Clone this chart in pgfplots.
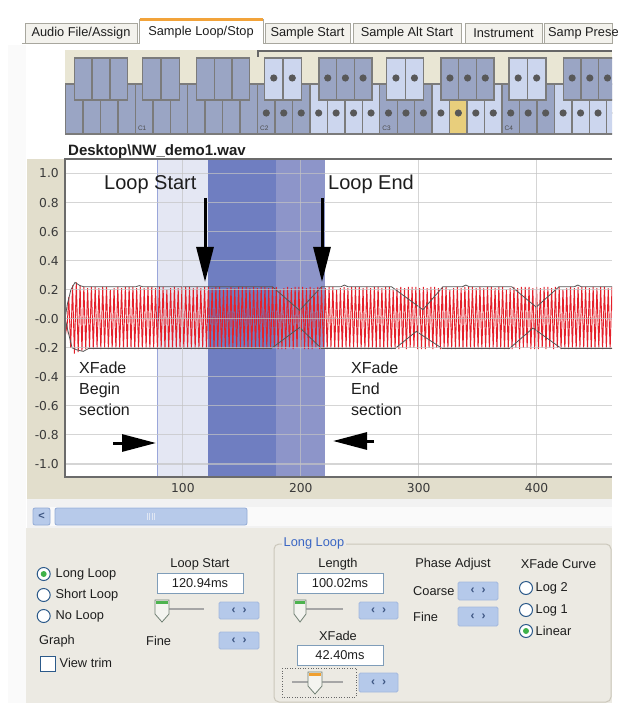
\documentclass[border=0pt]{standalone}
\usepackage{fontspec}
\setmainfont{Liberation Sans}
\newfontfamily\dejavu{DejaVu Sans}
\usepackage{pgfplots}
\pgfplotsset{compat=1.18}
\usetikzlibrary{arrows.meta}
\definecolor{chartbeige}{HTML}{E2DECC}
\definecolor{kbeige}{HTML}{E9E6D4}
\definecolor{kd}{HTML}{9AA5C4}
\definecolor{kl}{HTML}{CCD6EE}
\definecolor{ky}{HTML}{E8CE7C}
\definecolor{kborder}{HTML}{7B7B7B}
\definecolor{kdot}{HTML}{585858}
\definecolor{bandlight}{HTML}{E4E7F3}
\definecolor{banddark}{HTML}{6F7EC1}
\definecolor{bandmid}{HTML}{8D95C9}
\definecolor{bandline}{HTML}{9AA6DA}
\definecolor{wavered}{HTML}{E4202A}
\definecolor{envgray}{HTML}{555555}
\definecolor{gridc}{HTML}{C4C4C4}
\definecolor{tickc}{HTML}{3A3A3A}
\definecolor{panel}{HTML}{ECEAE3}
\definecolor{groupb}{HTML}{CBC7BB}
\definecolor{groupt}{HTML}{3A66C4}
\definecolor{spinf}{HTML}{B5C9EA}
\definecolor{spinb}{HTML}{A3B8DE}
\definecolor{spint}{HTML}{3E5682}
\definecolor{tbb}{HTML}{7F9DB9}
\definecolor{thumbf}{HTML}{F4F4F0}
\definecolor{thumbb}{HTML}{6F7F72}
\definecolor{thumbg}{HTML}{4DB34F}
\definecolor{thumbo}{HTML}{F0A030}
\definecolor{radb}{HTML}{2C5A8A}
\definecolor{radg}{HTML}{3FB24A}
\definecolor{tabf}{HTML}{F3F2ED}
\definecolor{tabb}{HTML}{A8A79E}
\definecolor{taborange}{HTML}{F2A33A}
\definecolor{scrollf}{HTML}{B7CAEA}
\definecolor{scrollb}{HTML}{93ABD6}
\definecolor{frame}{HTML}{6B6B6B}
\definecolor{txt}{HTML}{1E1E1E}
\newcommand\ui{\fontsize{12.8}{15}\selectfont}
\newcommand\annotA{\fontsize{20}{24}\selectfont}
\newcommand\annotB{\fontsize{16}{19}\selectfont}
\newcommand\tickf{\dejavu\fontsize{12.3}{14}\selectfont}
\newcommand\spin[4]{\filldraw[fill=spinf, draw=spinb, line width=0.8pt, rounded corners=1.5pt] (#1,#2) rectangle (#3,#4);
  \node[font=\fontsize{12}{13}\selectfont\bfseries, text=spint] at ({(#1+#3)/2},{(#2+#4)/2}) {‹\hspace{7pt}›};}
\newcommand\tbox[5]{\filldraw[fill=white, draw=tbb, line width=1pt] (#1,#2) rectangle (#3,#4);
  \node[font=\ui, text=txt] at ({(#1+#3)/2},{(#2+#4)/2}) {#5};}
\newcommand\thumb[4]{\filldraw[fill=thumbf, draw=thumbb, line width=0.8pt] (#1,#3) -- (#2,#3) -- (#2,#3+14) -- ({(#1+#2)/2},#3+22) -- (#1,#3+14) -- cycle;
  \fill[#4] (#1+1,#3+0.6) rectangle (#2-1,#3+3.6);}
\newcommand\radio[3]{\filldraw[fill=white, draw=radb, line width=1pt] (#1,#2) circle[radius=6.5pt];
  \ifnum#3=1 \fill[radg] (#1,#2) circle[radius=3pt];\fi}
\begin{document}
\begin{tikzpicture}
\useasboundingbox (0,0) rectangle (619pt,-708pt);
\fill[white] (0,0) rectangle (619pt,-708pt);
\begin{scope}[x=1pt,y=-1pt]
% left strip
\fill[black!2] (8,45) rectangle (26,703);
% tabs
\filldraw[fill=tabf, draw=tabb, line width=0.8pt] (25,23) rectangle (137,43);
\node[font=\ui, text=txt] at (81,33) {Audio File/Assign};
\filldraw[fill=tabf, draw=tabb, line width=0.8pt] (265,23) rectangle (350,43);
\node[font=\ui, text=txt] at (307.5,33) {Sample Start};
\filldraw[fill=tabf, draw=tabb, line width=0.8pt] (353,23) rectangle (461,43);
\node[font=\ui, text=txt] at (407,33) {Sample Alt Start};
\filldraw[fill=tabf, draw=tabb, line width=0.8pt] (465,23) rectangle (542,43);
\node[font=\ui, text=txt] at (503.5,33) {Instrument};
\filldraw[fill=tabf, draw=tabb, line width=0.8pt] (544,23) -- (612,23) -- (612,43) -- (544,43) -- cycle;
\node[font=\ui, text=txt, anchor=west, inner sep=0pt] at (548,33) {Samp Prese};
\draw[tabb, line width=0.8pt] (22,43) -- (139,43) (263,43) -- (612,43);
\filldraw[fill=white, draw=tabb, line width=0.8pt] (139,44) -- (139,19) -- (263,19) -- (263,44);
\fill[taborange] (139.5,18.5) rectangle (262.5,21.5);
\node[font=\ui, text=txt] at (201,32) {Sample Loop/Stop};
% keyboard
\begin{scope}
\clip (60,45) rectangle (612,140);
\fill[kbeige] (65,50) rectangle (612,85);
\foreach \k/\c in {0/kd,1/kd,2/kd,3/kd,4/kd,5/kd,6/kd,7/kd,8/kd,9/kd,10/kd,11/kd,12/kd,13/kd,14/kl,15/kl,16/kl,17/kl,18/kd,19/kd,20/kd,21/kl,22/ky,23/kl,24/kl,25/kd,26/kd,27/kd,28/kl,29/kl,30/kl,31/kl}{
  \pgfmathsetmacro\xa{65.5+\k*17.46}
  \filldraw[fill=\c, draw=kborder, line width=1.4pt] (\xa,84) rectangle ++(17.46,50);
  \ifnum\k>10 \fill[kdot] (\xa+8.73,113) circle[radius=3.6pt];\fi
}
\foreach \xs/\n/\c/\d in {74.5/3/kd/0, 142.3/2/kd/0, 196.7/3/kd/0, 264.5/2/kl/1, 318.9/3/kd/1, 386.7/2/kl/1, 441.1/3/kd/1, 508.9/2/kl/1, 563.3/3/kd/1}{
  \ifnum\n=3 \def\w{17.67}\else\def\w{18.5}\fi
  \foreach \j in {1,...,\n}{
    \pgfmathsetmacro\xx{\xs+(\j-1)*\w}
    \filldraw[fill=\c, draw=kborder, line width=1.4pt] (\xx,58) rectangle ++(\w,42);
    \ifnum\d=1 \fill[kdot] (\xx+\w/2,78) circle[radius=3.6pt];\fi
  }
}
\foreach \xc/\t in {135.3/C1, 257.5/C2, 379.7/C3, 501.9/C4}{
  \node[font=\fontsize{6.5}{7}\selectfont, text=black!70, anchor=base west, inner sep=0pt] at (\xc+2.5,131) {\t};
}
\end{scope}
\draw[black!60, line width=1.8pt] (258,57) -- (258,51) -- (612,51);
% file label
\node[font=\fontsize{15}{17}\selectfont\bfseries, text=txt, anchor=base west, inner sep=0pt] at (68,156) {Desktop\textbackslash NW\_demo1.wav};
% chart bands
\fill[chartbeige] (27,159) rectangle (612,499);
% scroll area
\fill[black!5] (27,499) rectangle (612,528);
\fill[white!98!black] (50,507) rectangle (612,526);
\filldraw[fill=scrollf, draw=scrollb, line width=0.8pt, rounded corners=2pt] (33,508) rectangle (50,525);
\node[font=\fontsize{11}{12}\selectfont\bfseries, text=spint] at (41.5,516.5) {<};
\filldraw[fill=scrollf, draw=scrollb, line width=0.8pt, rounded corners=2pt] (55,508) rectangle (247,525);
\foreach \gx in {147,149.5,152,154.5} \draw[white!70!scrollb, line width=0.6pt] (\gx,513) -- (\gx,520);
% panel
\fill[panel] (26,528) rectangle (612,703);
\radio{43.7}{574}{1}
\radio{43.7}{595}{0}
\radio{43.7}{616}{0}
\node[font=\ui, text=txt, anchor=west, inner sep=0pt] at (55.5,574) {Long Loop};
\node[font=\ui, text=txt, anchor=west, inner sep=0pt] at (55.5,595) {Short Loop};
\node[font=\ui, text=txt, anchor=west, inner sep=0pt] at (55.5,616) {No Loop};
\node[font=\ui, text=txt, anchor=west, inner sep=0pt] at (39,641) {Graph};
\filldraw[fill=white, draw=radb, line width=1pt] (40,656) rectangle (55,671);
\node[font=\ui, text=txt, anchor=west, inner sep=0pt] at (59.5,663) {View trim};
\node[font=\ui, text=txt] at (200,564) {Loop Start};
\tbox{157}{573}{243}{593}{120.94ms}
\draw[black!35, line width=1.6pt] (160,609) -- (204,609);
\thumb{155}{169}{600}{thumbg}
\spin{219}{602}{259}{619}
\node[font=\ui, text=txt, anchor=west, inner sep=0pt] at (146,641) {Fine};
\spin{219}{632}{259}{649}
% group box
\draw[groupb, line width=1pt, rounded corners=5pt] (274,544) rectangle (611,702);
\node[font=\ui, text=groupt, fill=panel, anchor=west, inner sep=1.5pt] at (282,543) {Long Loop};
\node[font=\ui, text=txt] at (338,564) {Length};
\tbox{297}{573}{383}{593}{100.02ms}
\draw[black!35, line width=1.6pt] (300,609) -- (343,609);
\thumb{294}{306}{600}{thumbg}
\spin{359}{602}{398}{619}
\node[font=\ui, text=txt] at (338,636) {XFade};
\tbox{297}{645}{383}{665}{42.40ms}
\draw[black!60, line width=0.6pt, dotted] (282,668) rectangle (356,697);
\draw[black!35, line width=1.6pt] (292,682) -- (343,682);
\thumb{308}{322}{672}{thumbo}
\spin{359}{673}{398}{692}
\node[font=\ui, text=txt] at (453,564) {Phase Adjust};
\node[font=\ui, text=txt, anchor=west, inner sep=0pt] at (413,591) {Coarse};
\spin{458}{582}{498}{600}
\node[font=\ui, text=txt, anchor=west, inner sep=0pt] at (413,617) {Fine};
\spin{458}{607}{498}{626}
\node[font=\ui, text=txt] at (558.5,564) {XFade Curve};
\radio{526}{588}{0}
\radio{526}{610}{0}
\radio{526}{631}{1}
\node[font=\ui, text=txt, anchor=west, inner sep=0pt] at (535.5,588) {Log 2};
\node[font=\ui, text=txt, anchor=west, inner sep=0pt] at (535.5,610) {Log 1};
\node[font=\ui, text=txt, anchor=west, inner sep=0pt] at (535.5,631) {Linear};
\end{scope}

\begin{axis}[
  at={(65pt,-477pt)}, anchor=south west,
  scale only axis, width=547pt, height=318pt,
  xmin=0, xmax=464, ymin=-1.09, ymax=1.10,
  xtick={100,200,300,400}, xticklabels={100,200,300,400},
  ytick={-1,-0.8,-0.6,-0.4,-0.2,0,0.2,0.4,0.6,0.8,1},
  yticklabels={-1.0,-0.8,-0.6,-0.4,-0.2,-0.0,0.2,0.4,0.6,0.8,1.0},
  grid=major, major grid style={draw=gridc, line width=1.2pt, opacity=0.7},
  major tick length=0pt,
  axis line style={draw=none},
  axis on top,
  axis background/.style={fill=white},
  yticklabel style={font=\tickf, text=tickc, anchor=east, inner sep=0pt, xshift=-6pt},
  xticklabel style={font=\tickf, text=tickc, anchor=north, inner sep=0pt, yshift=-6pt},
]
% loop regions
\addplot[fill=bandlight, draw=none] coordinates {(78.54,-1.2) (78.54,1.2) (120.94,1.2) (120.94,-1.2)};
\addplot[fill=banddark, draw=none] coordinates {(120.94,-1.2) (120.94,1.2) (178.56,1.2) (178.56,-1.2)};
\addplot[fill=bandmid, draw=none] coordinates {(178.56,-1.2) (178.56,1.2) (220.96,1.2) (220.96,-1.2)};
\addplot[bandline, line width=1.2pt] coordinates {(78.54,-1.2) (78.54,1.2)};
% waveform
\addplot[wavered, line width=0.95pt] coordinates {
(0,0) (1.6,-0.08) (3.2,0.15) (4.8,-0.2) (6.4,0.23)
(8,-0.24) (9.6,0.25) (11.2,-0.23) (12.8,0.23) (14.4,-0.22)
(16,0.22) (17.6,-0.21) (19.2,0.21) (20.8,-0.2) (22.4,0.22)
(24,-0.21) (25.6,0.22) (27.2,-0.2) (28.8,0.21) (30.4,-0.21)
(32,0.22) (33.6,-0.2) (35.2,0.22) (36.8,-0.21) (38.4,0.2)
(40,-0.21) (41.6,0.21) (43.2,-0.21) (44.8,0.22) (46.4,-0.2)
(48,0.21) (49.6,-0.21) (51.2,0.22) (52.8,-0.2) (54.4,0.22)
(56,-0.2) (57.6,0.22) (59.2,-0.21) (60.8,0.21) (62.4,-0.21)
(64,0.22) (65.6,-0.21) (67.2,0.21) (68.8,-0.2) (70.4,0.22)
(72,-0.21) (73.6,0.22) (75.2,-0.2) (76.8,0.21) (78.4,-0.21)
(80,0.22) (81.6,-0.2) (83.2,0.22) (84.8,-0.21) (86.4,0.2)
(88,-0.21) (89.6,0.21) (91.2,-0.21) (92.8,0.22) (94.4,-0.2)
(96,0.21) (97.6,-0.21) (99.2,0.22) (100.8,-0.2) (102.4,0.22)
(104,-0.2) (105.6,0.22) (107.2,-0.21) (108.8,0.21) (110.4,-0.21)
(112,0.22) (113.6,-0.21) (115.2,0.21) (116.8,-0.2) (118.4,0.22)
(120,-0.21) (121.6,0.22) (123.2,-0.2) (124.8,0.21) (126.4,-0.21)
(128,0.22) (129.6,-0.2) (131.2,0.22) (132.8,-0.21) (134.4,0.2)
(136,-0.21) (137.6,0.21) (139.2,-0.21) (140.8,0.22) (142.4,-0.2)
(144,0.21) (145.6,-0.21) (147.2,0.22) (148.8,-0.2) (150.4,0.22)
(152,-0.2) (153.6,0.22) (155.2,-0.21) (156.8,0.21) (158.4,-0.21)
(160,0.22) (161.6,-0.21) (163.2,0.21) (164.8,-0.2) (166.4,0.22)
(168,-0.21) (169.6,0.22) (171.2,-0.2) (172.8,0.21) (174.4,-0.21)
(176,0.22) (177.6,-0.2) (179.2,0.22) (180.8,-0.21) (182.4,0.2)
(184,-0.21) (185.6,0.21) (187.2,-0.21) (188.8,0.22) (190.4,-0.2)
(192,0.21) (193.6,-0.21) (195.2,0.22) (196.8,-0.2) (198.4,0.22)
(200,-0.2) (201.6,0.22) (203.2,-0.21) (204.8,0.21) (206.4,-0.21)
(208,0.22) (209.6,-0.21) (211.2,0.21) (212.8,-0.2) (214.4,0.22)
(216,-0.21) (217.6,0.22) (219.2,-0.2) (220.8,0.21) (222.4,-0.21)
(224,0.22) (225.6,-0.2) (227.2,0.22) (228.8,-0.21) (230.4,0.2)
(232,-0.21) (233.6,0.21) (235.2,-0.21) (236.8,0.22) (238.4,-0.2)
(240,0.21) (241.6,-0.21) (243.2,0.22) (244.8,-0.2) (246.4,0.22)
(248,-0.2) (249.6,0.22) (251.2,-0.21) (252.8,0.21) (254.4,-0.21)
(256,0.22) (257.6,-0.21) (259.2,0.21) (260.8,-0.2) (262.4,0.22)
(264,-0.21) (265.6,0.22) (267.2,-0.2) (268.8,0.21) (270.4,-0.21)
(272,0.22) (273.6,-0.2) (275.2,0.22) (276.8,-0.21) (278.4,0.2)
(280,-0.21) (281.6,0.21) (283.2,-0.21) (284.8,0.22) (286.4,-0.2)
(288,0.21) (289.6,-0.21) (291.2,0.22) (292.8,-0.2) (294.4,0.22)
(296,-0.2) (297.6,0.22) (299.2,-0.21) (300.8,0.21) (302.4,-0.21)
(304,0.22) (305.6,-0.21) (307.2,0.21) (308.8,-0.2) (310.4,0.22)
(312,-0.21) (313.6,0.22) (315.2,-0.2) (316.8,0.21) (318.4,-0.21)
(320,0.22) (321.6,-0.2) (323.2,0.22) (324.8,-0.21) (326.4,0.2)
(328,-0.21) (329.6,0.21) (331.2,-0.21) (332.8,0.22) (334.4,-0.2)
(336,0.21) (337.6,-0.21) (339.2,0.22) (340.8,-0.2) (342.4,0.22)
(344,-0.2) (345.6,0.22) (347.2,-0.21) (348.8,0.21) (350.4,-0.21)
(352,0.22) (353.6,-0.21) (355.2,0.21) (356.8,-0.2) (358.4,0.22)
(360,-0.21) (361.6,0.22) (363.2,-0.2) (364.8,0.21) (366.4,-0.21)
(368,0.22) (369.6,-0.2) (371.2,0.22) (372.8,-0.21) (374.4,0.2)
(376,-0.21) (377.6,0.21) (379.2,-0.21) (380.8,0.22) (382.4,-0.2)
(384,0.21) (385.6,-0.21) (387.2,0.22) (388.8,-0.2) (390.4,0.22)
(392,-0.2) (393.6,0.22) (395.2,-0.21) (396.8,0.21) (398.4,-0.21)
(400,0.22) (401.6,-0.21) (403.2,0.21) (404.8,-0.2) (406.4,0.22)
(408,-0.21) (409.6,0.22) (411.2,-0.2) (412.8,0.21) (414.4,-0.21)
(416,0.22) (417.6,-0.2) (419.2,0.22) (420.8,-0.21) (422.4,0.2)
(424,-0.21) (425.6,0.21) (427.2,-0.21) (428.8,0.22) (430.4,-0.2)
(432,0.21) (433.6,-0.21) (435.2,0.22) (436.8,-0.2) (438.4,0.22)
(440,-0.2) (441.6,0.22) (443.2,-0.21) (444.8,0.21) (446.4,-0.21)
(448,0.22) (449.6,-0.21) (451.2,0.21) (452.8,-0.2) (454.4,0.22)
(456,-0.21) (457.6,0.22) (459.2,-0.2) (460.8,0.21) (462.4,-0.21)
(464,0.22) (465.6,-0.2)
};
% envelopes
\addplot[envgray, line width=0.8pt] coordinates {
(0,0) (2,0.1) (5,0.2) (8.5,0.25) (12.7,0.228) (16,0.22) (60,0.22) (63,0.228) (66,0.22) (176,0.22) (199,0.057) (217.5,0.22)
(234,0.22) (237,0.232) (240,0.22) (277,0.22) (303.6,0.062) (320.6,0.22) (337,0.22) (340,0.232) (343,0.22)
(379,0.22) (399.7,0.08) (419,0.22) (432,0.22) (435,0.232) (438,0.22) (464,0.22)};
\addplot[envgray, line width=0.8pt] coordinates {
(0,0) (3,-0.1) (6,-0.2) (9.9,-0.214) (15.5,-0.225) (20,-0.205) (175,-0.205) (199,-0.06) (217.5,-0.205)
(280,-0.205) (298,-0.087) (320,-0.205) (377,-0.205) (397,-0.064) (421,-0.205) (464,-0.205)};
\end{axis}

\begin{scope}[x=1pt,y=-1pt]
\draw[frame, line width=1.5pt] (612,159) -- (65,159) -- (65,477) -- (612,477);
% annotations
\node[font=\annotA, text=txt, anchor=base west, inner sep=0pt] at (104,189.3) {Loop Start};
\node[font=\annotA, text=txt, anchor=base west, inner sep=0pt] at (328,189.3) {Loop End};
\draw[black, line width=3pt, -{Triangle[length=35pt,width=17pt]}] (205,198) -- (205,282);
\draw[black, line width=3pt, -{Triangle[length=35pt,width=17pt]}] (322,198) -- (322,282);
\draw[black, line width=3pt, -{Triangle[length=34pt,width=17pt]}] (113,443) -- (156,443);
\draw[black, line width=3pt, -{Triangle[length=34pt,width=17pt]}] (374,441) -- (333,441);
\node[font=\annotB, text=txt, anchor=base west, inner sep=0pt] at (79,373.3) {XFade};
\node[font=\annotB, text=txt, anchor=base west, inner sep=0pt] at (79,394.3) {Begin};
\node[font=\annotB, text=txt, anchor=base west, inner sep=0pt] at (79,415) {section};
\node[font=\annotB, text=txt, anchor=base west, inner sep=0pt] at (351,373.3) {XFade};
\node[font=\annotB, text=txt, anchor=base west, inner sep=0pt] at (351,394.3) {End};
\node[font=\annotB, text=txt, anchor=base west, inner sep=0pt] at (351,415) {section};
\end{scope}
\end{tikzpicture}
\end{document}
